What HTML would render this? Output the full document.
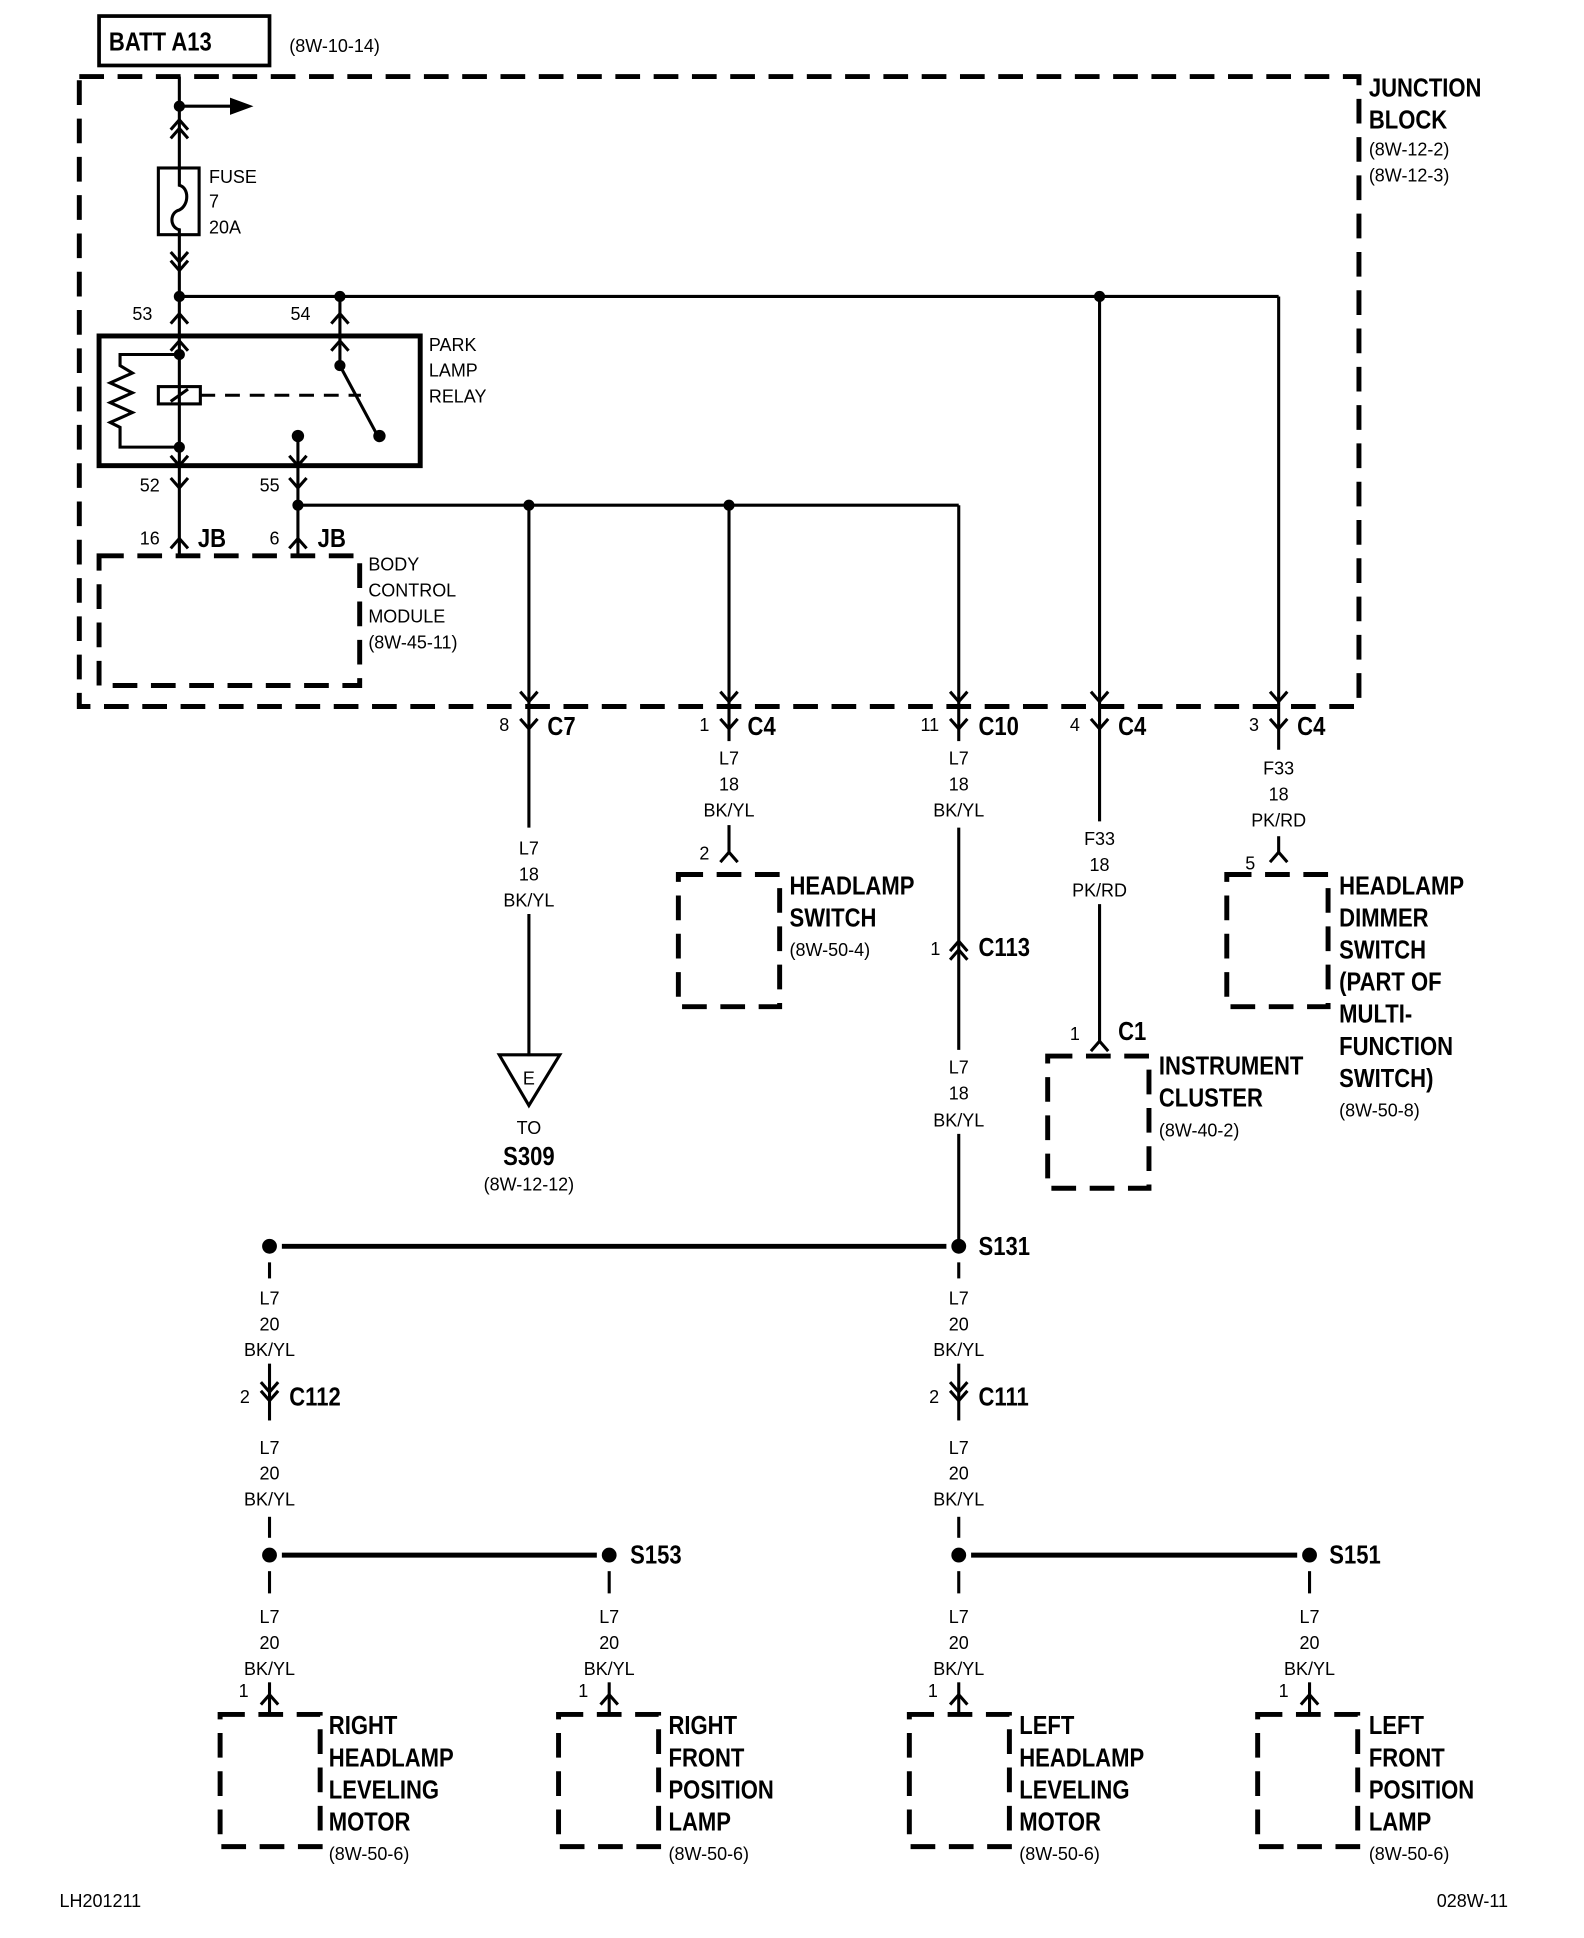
<!DOCTYPE html>
<html><head><meta charset="utf-8"><style>
html,body{margin:0;padding:0;background:#fff}
svg{display:block}
text{font-family:"Liberation Sans Narrow","Liberation Sans",sans-serif;fill:#000;transform-box:fill-box;transform-origin:0 0;transform:scaleX(.85)}
.b{font-weight:bold;font-size:21px}
.s{font-size:15px;transform:scaleX(.97)}
.c{text-anchor:middle;transform-origin:50% 0}
</style></head><body>
<svg width="1584" height="1938" viewBox="0 0 1282 1569" xmlns="http://www.w3.org/2000/svg">
<defs>
<path id="v" d="M-7,-8 L0,0 L7,-8" fill="none" stroke="#000" stroke-width="2.5"/>
<path id="a" d="M-7,8 L0,0 L7,8" fill="none" stroke="#000" stroke-width="2.5"/>
</defs>
<g stroke="#000" fill="none" stroke-width="2.5">
<rect x="80" y="13" width="138" height="40" stroke-width="3"/>
<rect x="64" y="62" width="1036" height="510" stroke-width="4" stroke-dasharray="20 11"/>
<line x1="145" y1="62" x2="145" y2="136"/>
<line x1="145" y1="86" x2="190" y2="86"/>
<rect x="128" y="136" width="33" height="54"/>
<path d="M145,136 L145,150 C153,152 153,166 145,170 C137,172 137,184 145,186 L145,240"/>
<line x1="145" y1="240" x2="1035" y2="240"/>
<line x1="1035" y1="240" x2="1035" y2="572"/>
<line x1="890" y1="240" x2="890" y2="572"/>
<line x1="275" y1="240" x2="275" y2="296"/>
<line x1="145" y1="240" x2="145" y2="362"/>
<rect x="80" y="272" width="260" height="105" stroke-width="4"/>
<path d="M145,287 L97,287 L97,296 L107,302 L89,310 L107,318 L89,326 L107,334 L89,342 L97,346 L97,362 L145,362"/>
<rect x="128" y="313" width="34" height="14"/>
<line x1="138" y1="325" x2="152" y2="315"/>
<line x1="162" y1="320" x2="292" y2="320" stroke-dasharray="12 8"/>
<line x1="275" y1="296" x2="304" y2="350"/>
<line x1="241" y1="353" x2="241" y2="377"/>
<line x1="145" y1="362" x2="145" y2="450"/>
<line x1="241" y1="377" x2="241" y2="450"/>
<line x1="241" y1="409" x2="776" y2="409"/>
<line x1="428" y1="409" x2="428" y2="572"/>
<line x1="590" y1="409" x2="590" y2="572"/>
<line x1="776" y1="409" x2="776" y2="572"/>
<rect x="80" y="450" width="211" height="105" stroke-width="4" stroke-dasharray="20 11"/>
<line x1="428" y1="572" x2="428" y2="670"/>
<line x1="428" y1="740" x2="428" y2="855"/>
<line x1="590" y1="572" x2="590" y2="600"/>
<line x1="590" y1="668" x2="590" y2="690"/>
<line x1="776" y1="572" x2="776" y2="600"/>
<line x1="776" y1="670" x2="776" y2="850"/>
<line x1="776" y1="918" x2="776" y2="1009"/>
<line x1="890" y1="572" x2="890" y2="665"/>
<line x1="890" y1="732" x2="890" y2="843"/>
<line x1="1035" y1="572" x2="1035" y2="607"/>
<line x1="1035" y1="677" x2="1035" y2="690"/>
<path d="M404,854 L453,854 L428,895 Z"/>
<g stroke-width="4" stroke-dasharray="20 11">
<rect x="549" y="708" width="82" height="107"/>
<rect x="848" y="855" width="82" height="107"/>
<rect x="993" y="708" width="82" height="107"/>
<rect x="178" y="1388" width="81" height="107"/>
<rect x="452" y="1388" width="81" height="107"/>
<rect x="736" y="1388" width="81" height="107"/>
<rect x="1018" y="1388" width="81" height="107"/>
</g>
<line x1="228" y1="1009" x2="766" y2="1009" stroke-width="4"/>
<line x1="228" y1="1259" x2="483" y2="1259" stroke-width="4"/>
<line x1="786" y1="1259" x2="1050" y2="1259" stroke-width="4"/>
<g>
<line x1="218" y1="1022" x2="218" y2="1035"/><line x1="218" y1="1104" x2="218" y2="1150"/><line x1="218" y1="1228" x2="218" y2="1245"/>
<line x1="776" y1="1022" x2="776" y2="1035"/><line x1="776" y1="1104" x2="776" y2="1150"/><line x1="776" y1="1228" x2="776" y2="1245"/>
<line x1="218" y1="1272" x2="218" y2="1290"/><line x1="493" y1="1272" x2="493" y2="1290"/>
<line x1="776" y1="1272" x2="776" y2="1290"/><line x1="1060" y1="1272" x2="1060" y2="1290"/>
<line x1="218" y1="1362" x2="218" y2="1388"/><line x1="493" y1="1362" x2="493" y2="1388"/>
<line x1="776" y1="1362" x2="776" y2="1388"/><line x1="1060" y1="1362" x2="1060" y2="1388"/>
</g>
</g>
<path d="M186,79 L205,86 L186,93 Z"/>
<g>
<circle cx="145" cy="86" r="4.5"/><circle cx="145" cy="240" r="4.5"/><circle cx="275" cy="240" r="4.5"/><circle cx="890" cy="240" r="4.5"/>
<circle cx="145" cy="287" r="4.5"/><circle cx="145" cy="362" r="4.5"/><circle cx="275" cy="296" r="4.5"/><circle cx="307" cy="353" r="5"/><circle cx="241" cy="353" r="5"/>
<circle cx="241" cy="409" r="4.5"/><circle cx="428" cy="409" r="4.5"/><circle cx="590" cy="409" r="4.5"/>
<circle cx="776" cy="1009" r="6"/><circle cx="218" cy="1009" r="6"/>
<circle cx="218" cy="1259" r="6"/><circle cx="493" cy="1259" r="6"/><circle cx="776" cy="1259" r="6"/><circle cx="1060" cy="1259" r="6"/>
</g>
<use href="#a" x="145" y="97"/><use href="#a" x="145" y="104"/>
<use href="#v" x="145" y="212"/><use href="#v" x="145" y="219"/>
<use href="#a" x="145" y="254"/><use href="#a" x="275" y="254"/>
<use href="#a" x="145" y="276"/><use href="#a" x="275" y="276"/>
<use href="#v" x="145" y="377"/><use href="#v" x="241" y="377"/>
<use href="#v" x="145" y="395"/><use href="#v" x="241" y="395"/>
<use href="#a" x="145" y="436"/><use href="#a" x="241" y="436"/>
<use href="#v" x="428" y="568"/><use href="#v" x="590" y="568"/><use href="#v" x="776" y="568"/><use href="#v" x="890" y="568"/><use href="#v" x="1035" y="568"/>
<use href="#v" x="428" y="590"/><use href="#v" x="590" y="590"/><use href="#v" x="776" y="590"/><use href="#v" x="890" y="590"/><use href="#v" x="1035" y="590"/>
<use href="#a" x="590" y="690"/><use href="#a" x="1035" y="690"/><use href="#a" x="890" y="843"/>
<use href="#a" x="776" y="762"/><use href="#a" x="776" y="769"/>
<use href="#v" x="218" y="1127"/><use href="#v" x="218" y="1134"/>
<use href="#v" x="776" y="1127"/><use href="#v" x="776" y="1134"/>
<use href="#a" x="218" y="1372"/><use href="#a" x="493" y="1372"/><use href="#a" x="776" y="1372"/><use href="#a" x="1060" y="1372"/>
<text class="b" x="88" y="41">BATT A13</text>
<text class="s" x="234" y="42">(8W-10-14)</text>
<text class="b" x="1108" y="78">JUNCTION</text>
<text class="b" x="1108" y="104">BLOCK</text>
<text class="s" x="1108" y="126">(8W-12-2)</text>
<text class="s" x="1108" y="147">(8W-12-3)</text>
<text class="s" x="169" y="148">FUSE</text><text class="s" x="169" y="168">7</text><text class="s" x="169" y="189">20A</text>
<text class="s" x="107" y="259">53</text><text class="s" x="235" y="259">54</text>
<text class="s" x="347" y="284">PARK</text><text class="s" x="347" y="305">LAMP</text><text class="s" x="347" y="326">RELAY</text>
<text class="s" x="113" y="398">52</text><text class="s" x="210" y="398">55</text>
<text class="s" x="113" y="441">16</text><text class="b" x="160" y="443">JB</text>
<text class="s" x="218" y="441">6</text><text class="b" x="257" y="443">JB</text>
<text class="s" x="298" y="462">BODY</text><text class="s" x="298" y="483">CONTROL</text><text class="s" x="298" y="504">MODULE</text><text class="s" x="298" y="525">(8W-45-11)</text>
<text class="s" x="404" y="592">8</text><text class="b" x="443" y="595">C7</text>
<text class="s" x="566" y="592">1</text><text class="b" x="605" y="595">C4</text>
<text class="s" x="745" y="592">11</text><text class="b" x="792" y="595">C10</text>
<text class="s" x="866" y="592">4</text><text class="b" x="905" y="595">C4</text>
<text class="s" x="1011" y="592">3</text><text class="b" x="1050" y="595">C4</text>
<g>
<text class="s c" x="428" y="692">L7</text><text class="s c" x="428" y="713">18</text><text class="s c" x="428" y="734">BK/YL</text>
<text class="s c" x="590" y="619">L7</text><text class="s c" x="590" y="640">18</text><text class="s c" x="590" y="661">BK/YL</text>
<text class="s c" x="776" y="619">L7</text><text class="s c" x="776" y="640">18</text><text class="s c" x="776" y="661">BK/YL</text>
<text class="s c" x="776" y="869">L7</text><text class="s c" x="776" y="890">18</text><text class="s c" x="776" y="912">BK/YL</text>
<text class="s c" x="890" y="684">F33</text><text class="s c" x="890" y="705">18</text><text class="s c" x="890" y="726">PK/RD</text>
<text class="s c" x="1035" y="627">F33</text><text class="s c" x="1035" y="648">18</text><text class="s c" x="1035" y="669">PK/RD</text>
<text class="s c" x="428" y="878">E</text><text class="s c" x="428" y="918">TO</text><text class="s c" x="428" y="964">(8W-12-12)</text>
<text class="s c" x="218" y="1056">L7</text><text class="s c" x="218" y="1077">20</text><text class="s c" x="218" y="1098">BK/YL</text>
<text class="s c" x="776" y="1056">L7</text><text class="s c" x="776" y="1077">20</text><text class="s c" x="776" y="1098">BK/YL</text>
<text class="s c" x="218" y="1177">L7</text><text class="s c" x="218" y="1198">20</text><text class="s c" x="218" y="1219">BK/YL</text>
<text class="s c" x="776" y="1177">L7</text><text class="s c" x="776" y="1198">20</text><text class="s c" x="776" y="1219">BK/YL</text>
<text class="s c" x="218" y="1314">L7</text><text class="s c" x="218" y="1335">20</text><text class="s c" x="218" y="1356">BK/YL</text>
<text class="s c" x="493" y="1314">L7</text><text class="s c" x="493" y="1335">20</text><text class="s c" x="493" y="1356">BK/YL</text>
<text class="s c" x="776" y="1314">L7</text><text class="s c" x="776" y="1335">20</text><text class="s c" x="776" y="1356">BK/YL</text>
<text class="s c" x="1060" y="1314">L7</text><text class="s c" x="1060" y="1335">20</text><text class="s c" x="1060" y="1356">BK/YL</text>
</g>
<text class="b c" x="428" y="943">S309</text>
<text class="s" x="566" y="696">2</text>
<text class="b" x="639" y="724">HEADLAMP</text><text class="b" x="639" y="750">SWITCH</text><text class="s" x="639" y="774">(8W-50-4)</text>
<text class="s" x="753" y="773">1</text><text class="b" x="792" y="774">C113</text>
<text class="s" x="866" y="842">1</text><text class="b" x="905" y="842">C1</text>
<text class="b" x="938" y="870">INSTRUMENT</text><text class="b" x="938" y="896">CLUSTER</text><text class="s" x="938" y="920">(8W-40-2)</text>
<text class="s" x="1008" y="704">5</text>
<text class="b" x="1084" y="724">HEADLAMP</text><text class="b" x="1084" y="750">DIMMER</text><text class="b" x="1084" y="776">SWITCH</text>
<text class="b" x="1084" y="802">(PART OF</text><text class="b" x="1084" y="828">MULTI-</text><text class="b" x="1084" y="854">FUNCTION</text><text class="b" x="1084" y="880">SWITCH)</text>
<text class="s" x="1084" y="904">(8W-50-8)</text>
<text class="b" x="792" y="1016">S131</text>
<text class="s" x="194" y="1136">2</text><text class="b" x="234" y="1138">C112</text>
<text class="s" x="752" y="1136">2</text><text class="b" x="792" y="1138">C111</text>
<text class="b" x="510" y="1266">S153</text><text class="b" x="1076" y="1266">S151</text>
<text class="s" x="193" y="1374">1</text><text class="s" x="468" y="1374">1</text><text class="s" x="751" y="1374">1</text><text class="s" x="1035" y="1374">1</text>
<text class="b" x="266" y="1404">RIGHT</text><text class="b" x="266" y="1430">HEADLAMP</text><text class="b" x="266" y="1456">LEVELING</text><text class="b" x="266" y="1482">MOTOR</text><text class="s" x="266" y="1506">(8W-50-6)</text>
<text class="b" x="541" y="1404">RIGHT</text><text class="b" x="541" y="1430">FRONT</text><text class="b" x="541" y="1456">POSITION</text><text class="b" x="541" y="1482">LAMP</text><text class="s" x="541" y="1506">(8W-50-6)</text>
<text class="b" x="825" y="1404">LEFT</text><text class="b" x="825" y="1430">HEADLAMP</text><text class="b" x="825" y="1456">LEVELING</text><text class="b" x="825" y="1482">MOTOR</text><text class="s" x="825" y="1506">(8W-50-6)</text>
<text class="b" x="1108" y="1404">LEFT</text><text class="b" x="1108" y="1430">FRONT</text><text class="b" x="1108" y="1456">POSITION</text><text class="b" x="1108" y="1482">LAMP</text><text class="s" x="1108" y="1506">(8W-50-6)</text>
<text class="s" x="48" y="1544">LH201211</text>
<text class="s" x="1163" y="1544">028W-11</text>
</svg>
</body></html>
